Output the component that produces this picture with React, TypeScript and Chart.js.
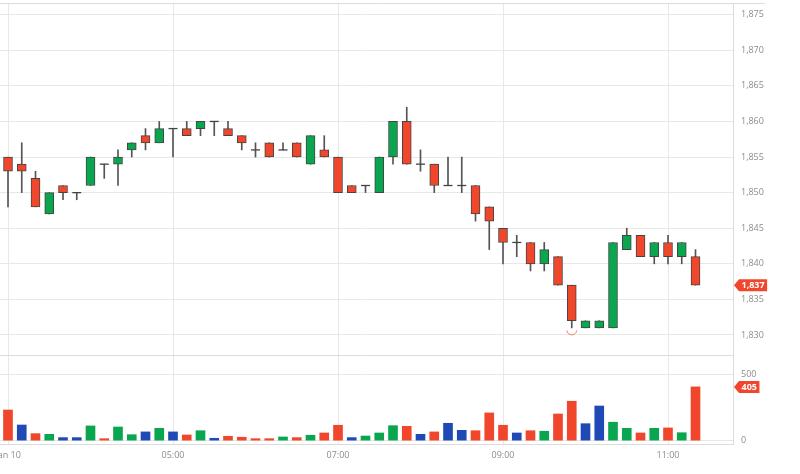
import React, { useEffect, useRef } from "react";
import { Chart, registerables } from "chart.js";

Chart.register(...registerables);

// ---- data (10-minute candles) ----
const opens = [
  1855, 1854, 1852, 1847, 1851, 1850, 1851, 1854, 1854, 1856,
  1858, 1857, 1859, 1859, 1859, 1860, 1859, 1858, 1856, 1857,
  1856, 1857, 1854, 1856, 1855, 1851, 1851, 1850, 1855, 1860,
  1854, 1854, 1851, 1851, 1851, 1848, 1845, 1843, 1843, 1840,
  1841, 1837, 1831, 1831, 1831, 1842, 1844, 1841, 1843, 1841,
  1841,
];
const highs = [
  1855, 1857, 1853, 1850, 1851, 1850, 1855, 1854, 1856, 1857,
  1859, 1860, 1859, 1860, 1860, 1860, 1860, 1858, 1857, 1857,
  1857, 1857, 1858, 1858, 1855, 1851, 1851, 1855, 1860, 1862,
  1856, 1854, 1855, 1855, 1851, 1848, 1845, 1844, 1843, 1843,
  1841, 1837, 1832, 1832, 1843, 1845, 1844, 1843, 1844, 1843,
  1842,
];
const lows = [
  1848, 1850, 1848, 1847, 1849, 1849, 1851, 1852, 1851, 1855,
  1856, 1857, 1855, 1858, 1858, 1858, 1858, 1856, 1855, 1855,
  1856, 1855, 1854, 1855, 1850, 1850, 1850, 1850, 1854, 1854,
  1853, 1850, 1851, 1850, 1846, 1842, 1840, 1841, 1839, 1839,
  1837, 1831, 1831, 1831, 1831, 1842, 1841, 1840, 1840, 1840,
  1837,
];
const closes = [
  1853, 1853, 1848, 1850, 1850, 1850, 1855, 1854, 1855, 1857,
  1857, 1859, 1859, 1858, 1860, 1860, 1858, 1857, 1856, 1855,
  1856, 1855, 1858, 1855, 1850, 1850, 1851, 1855, 1860, 1854,
  1854, 1851, 1851, 1851, 1847, 1846, 1843, 1843, 1840, 1842,
  1837, 1832, 1832, 1832, 1843, 1844, 1841, 1843, 1841, 1843,
  1837,
];
const volumes = [
  231, 118, 53, 48, 23, 23, 111, 15, 103, 45,
  66, 93, 66, 43, 75, 18, 33, 26, 15, 15,
  28, 23, 41, 58, 116, 23, 35, 58, 113, 108,
  48, 66, 131, 78, 75, 209, 116, 58, 75, 71,
  201, 297, 128, 261, 139, 93, 58, 93, 96, 60,
  405,
];
const xTickPositions = [0, 12, 24, 36, 48];
const xTickLabels = ["Jan 10", "05:00", "07:00", "09:00", "11:00"];
const priceTicks = [1830, 1835, 1840, 1845, 1850, 1855, 1860, 1865, 1870, 1875];
const volumeTicks = [0, 500];

const RED = "#f0462b";
const GREEN = "#0aa64f";
const BLUE = "#1f4ab5";
const OUTLINE = "#444444";
const AXIS_TEXT = "#8c8c8c";
const GRID = "#e8e8e8";
const BORDER = "#dcdcdc";
const FONT = "'Open Sans', 'Noto Sans', sans-serif";

function drawTag(ctx: CanvasRenderingContext2D, xLeft: number, yc: number, text: string) {
  ctx.save();
  ctx.font = `bold 9px ${FONT}`;
  const tw = ctx.measureText(text).width;
  const w = tw + 5;
  const h = 12;
  const a = 5;
  ctx.fillStyle = RED;
  ctx.beginPath();
  ctx.moveTo(xLeft, yc);
  ctx.lineTo(xLeft + a, yc - h / 2);
  ctx.lineTo(xLeft + a + w, yc - h / 2);
  ctx.lineTo(xLeft + a + w, yc + h / 2);
  ctx.lineTo(xLeft + a, yc + h / 2);
  ctx.closePath();
  ctx.fill();
  ctx.fillStyle = "#ffffff";
  ctx.textAlign = "center";
  ctx.textBaseline = "middle";
  ctx.fillText(text, xLeft + a + w / 2, yc + 0.5);
  ctx.restore();
}

const overlayPlugin = {
  id: "overlay",
  beforeDatasetsDraw(chart: any) {
    const { ctx, chartArea, scales } = chart;
    const y = scales.y;
    ctx.save();
    ctx.strokeStyle = BORDER;
    ctx.lineWidth = 1;
    // top border
    ctx.beginPath();
    ctx.moveTo(chartArea.left, Math.round(chartArea.top) + 0.5);
    ctx.lineTo(chartArea.right + 32, Math.round(chartArea.top) + 0.5);
    ctx.stroke();
    // panel separator
    const sy = Math.round(y.bottom) + 0.5;
    ctx.beginPath();
    ctx.moveTo(chartArea.left, sy);
    ctx.lineTo(chartArea.right, sy);
    ctx.stroke();
    ctx.restore();
  },
  afterDraw(chart: any) {
    const { ctx, chartArea, scales } = chart;
    const x = scales.x;
    const y = scales.y;
    const v = scales.v;
    // low marker
    let minI = 0;
    for (let i = 1; i < lows.length; i++) if (lows[i] < lows[minI]) minI = i;
    const mx = x.getPixelForValue(minI);
    const my = y.getPixelForValue(lows[minI]) + 2;
    ctx.save();
    ctx.strokeStyle = "#f4846f";
    ctx.lineWidth = 1;
    ctx.beginPath();
    ctx.arc(mx, my, 5, 0.1, Math.PI - 0.1);
    ctx.stroke();
    ctx.restore();
    // last value tags
    const last = closes.length - 1;
    drawTag(ctx, chartArea.right + 1, y.getPixelForValue(closes[last]), closes[last].toLocaleString("en-US"));
    drawTag(ctx, chartArea.right + 1, v.getPixelForValue(volumes[last]), String(volumes[last]));
  },
};

export default function App() {
  const ref = useRef<HTMLCanvasElement | null>(null);

  useEffect(() => {
    document.body.style.overflow = "hidden";
    const canvas = ref.current;
    if (!canvas) return;
    const idx = closes.map((_, i) => i);

    const volumeColors = idx.map((i) => {
      if (i === 0) return RED;
      if (closes[i] > closes[i - 1]) return GREEN;
      if (closes[i] < closes[i - 1]) return RED;
      return BLUE;
    });

    const tickFont = { family: FONT, size: 9 };

    const chart = new Chart(canvas, {
      type: "bar",
      data: {
        datasets: [
          {
            type: "bar",
            label: "wick",
            data: idx.map((i) => ({ x: i, y: [lows[i], highs[i]] })) as any,
            backgroundColor: "#555555",
            borderWidth: 0,
            barThickness: 1,
            grouped: false,
            yAxisID: "y",
            order: 3,
          },
          {
            type: "bar",
            label: "body",
            data: idx
              .filter((i) => opens[i] !== closes[i])
              .map((i) => ({ x: i, y: [opens[i], closes[i]] })) as any,
            backgroundColor: (c: any) => {
              const r = c.raw;
              return r && r.y[1] < r.y[0] ? RED : GREEN;
            },
            borderColor: OUTLINE,
            borderWidth: 1,
            borderSkipped: false,
            barThickness: 9,
            grouped: false,
            yAxisID: "y",
            order: 2,
          },
          {
            type: "scatter",
            label: "doji",
            data: idx.filter((i) => opens[i] === closes[i]).map((i) => ({ x: i, y: opens[i] })),
            pointStyle: "line",
            pointRadius: 4.5,
            borderColor: OUTLINE,
            borderWidth: 1.3,
            yAxisID: "y",
            order: 1,
          },
          {
            type: "bar",
            label: "volume",
            data: idx.map((i) => ({ x: i, y: volumes[i] })) as any,
            backgroundColor: volumeColors,
            borderWidth: 0,
            barThickness: 9,
            grouped: false,
            yAxisID: "v",
            order: 4,
          },
        ],
      },
      options: {
        responsive: false,
        animation: false,
        events: [],
        layout: { padding: { left: 60, top: 23, right: 0, bottom: 0 } },
        plugins: { legend: { display: false }, tooltip: { enabled: false } },
        scales: {
          x: {
            type: "linear",
            min: -0.582,
            max: 52.727,
            offset: false,
            afterBuildTicks: (s: any) => {
              s.ticks = xTickPositions.map((value) => ({ value }));
            },
            afterFit: (s: any) => {
              s.height = 30;
            },
            grid: { color: GRID, drawTicks: false, offset: false },
            border: { display: true, color: BORDER },
            ticks: {
              padding: 6,
              maxRotation: 0,
              autoSkip: false,
              color: AXIS_TEXT,
              font: tickFont,
              callback: (_v: any, i: number) => xTickLabels[i],
            },
          },
          y: {
            type: "linear",
            position: "right",
            stack: "panels",
            stackWeight: 352,
            min: 1827.19,
            max: 1876.64,
            afterBuildTicks: (s: any) => {
              s.ticks = priceTicks.map((value) => ({ value }));
            },
            afterFit: (s: any) => {
              s.width = 67;
            },
            grid: { color: GRID, drawTicks: false },
            border: { display: true, color: BORDER },
            ticks: {
              padding: 8,
              color: AXIS_TEXT,
              font: tickFont,
              callback: (val: any) => Number(val).toLocaleString("en-US"),
            },
          },
          v: {
            type: "linear",
            position: "right",
            stack: "panels",
            stackWeight: 89,
            min: -25,
            max: 645,
            afterBuildTicks: (s: any) => {
              s.ticks = volumeTicks.map((value) => ({ value }));
            },
            afterFit: (s: any) => {
              s.width = 67;
            },
            grid: { color: GRID, drawTicks: false },
            border: { display: true, color: BORDER },
            ticks: {
              padding: 8,
              color: AXIS_TEXT,
              font: tickFont,
              callback: (val: any) => String(val),
            },
          },
        } as any,
      },
      plugins: [overlayPlugin],
    });

    return () => chart.destroy();
  }, []);

  return (
    <div style={{ position: "absolute", left: 0, top: 0, width: 800, height: 474, overflow: "hidden" }}>
      <canvas
        ref={ref}
        width={860}
        height={494}
        style={{ position: "absolute", left: -60, top: -20, width: 860, height: 494 }}
      />
    </div>
  );
}
